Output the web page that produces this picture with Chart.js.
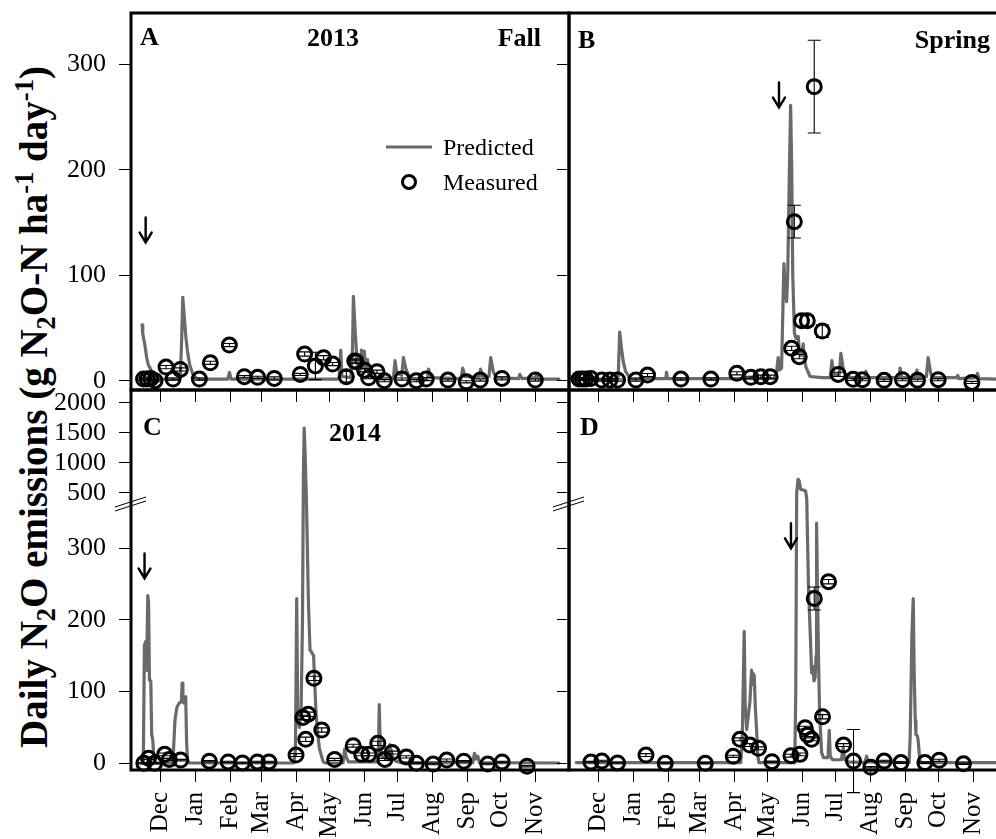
<!DOCTYPE html>
<html>
<head>
<meta charset="utf-8">
<script src="https://cdn.jsdelivr.net/npm/chart.js@4.4.1/dist/chart.umd.min.js"></script>
<style>
  html, body { margin: 0; padding: 0; background: #fff; overflow: hidden; }
  #fig { position: relative; width: 996px; height: 839px; overflow: hidden; }
  #fig canvas { position: absolute; }
  #ytitle {
    position: absolute; left: 33px; top: 407px;
    transform: translate(-50%, -50%) rotate(-90deg);
    white-space: nowrap; line-height: 1;
    font: bold 39px "Liberation Serif", "Times New Roman", serif;
    color: #000;
  }
  #ytitle sub, #ytitle sup { font-size: 0.68em; line-height: 0; }
</style>
</head>
<body>
<div id="fig">
  <div id="ytitle">Daily N<sub>2</sub>O emissions (g N<sub>2</sub>O-N ha<sup>-1</sup> day<sup>-1</sup>)</div>
  <canvas id="panelA" width="580" height="420" style="left:0;top:0"></canvas>
  <canvas id="panelB" width="580" height="420" style="left:440px;top:0"></canvas>
  <canvas id="panelC" width="580" height="459" style="left:0;top:380px"></canvas>
  <canvas id="panelD" width="580" height="459" style="left:440px;top:380px"></canvas>
</div>
<script>
// x axis: days after 1 December
const MONTH_LABELS = ['Dec', 'Jan', 'Feb', 'Mar', 'Apr', 'May', 'Jun', 'Jul', 'Aug', 'Sep', 'Oct', 'Nov'];
const MONTH_STARTS = [0, 31, 62, 90, 121, 151, 182, 212, 243, 274, 304, 335];
const TICKS_TOP = [0, 100, 200, 300];
const TICKS_BOTTOM = [0, 100, 200, 300, 500, 1000, 1500, 2000];

// predicted daily flux [day, g N2O-N/ha/day]
const predictedA = [[-16.6,53],[-16,45],[-15.2,40],[-14,33],[-12.5,22],[-11,15],[-9,11],[-7,5],[-5,2],[-2,1.5],
  [16,1.5],[17.6,3],[18.8,40],[19.8,79],[21,62],[22.5,42],[24,28],[26,15],[28.5,7],[31,3],[34,1.5],
  [60,1.5],[61.5,8],[63,1.5],[158,1.5],[159.5,3],[161,29],[162,4],[170,3],[171.5,30],[172.3,80],[174,45],
  [176,12],[178,8],[179.5,29],[180.5,12],[182,28],[183.5,10],[185,20],[186,6],[189,3],[208,2],[209.5,19],
  [211,8],[215.5,5],[217,22],[219,12],[222,4],[226,2],[238.5,2],[239.5,11],[241,3],[268.5,2],[270,12],
  [272,4],[284.5,3],[286,11],[288,3],[293.5,4],[295,22],[297.5,8],[300,3],[320,2],[321,6],[323,2],
  [335,3],[336,6],[338,1.5],[356,1.5]];
const predictedB = [[-17,1.5],[16,1.5],[17.5,4],[18.8,46],[20.5,30],[22,18],[24,9],[27,4],[30,2],
  [60,2],[60.7,8],[61.5,2],[157,2],[159,8],[160.5,22],[161.5,10],[163.5,12],[165.6,111],[166.6,90],
  [168,75],[169,100],[170.5,200],[171.6,261],[172.6,200],[173.5,100],[175,45],[176.5,40],[178.4,42],
  [179.5,26],[181,24],[182.9,35],[184,20],[185.3,13],[188.9,4],[200,3],[207,3],[208.5,19],[210,6],
  [215,5],[216.5,26],[218.5,12],[221,5],[226,3],[238,3],[239,9],[240,3],[268.5,3],[269.5,12],[271,3],
  [283,3],[284.5,10],[286,3],[293,4],[294.5,22],[297,6],[300,3],[320,3],[321,5],[322,2],[337.5,3],
  [338.6,7],[340,2],[356,1.5]];
const predictedC = [[-16.5,0.5],[-15.5,2],[-14.5,165],[-13.3,170],[-12.5,130],[-11.5,234],[-10.8,225],
  [-10,116],[-8.8,115],[-8,40],[-7,32],[-6,3],[-4.5,0.5],[10,0.5],[11.2,10],[12.8,60],[14.5,78],
  [16.5,84],[18.5,86],[19.2,112],[19.9,86],[20.8,84],[21.8,92],[22.4,93],[23.2,30],[24,5],[25.6,0.5],
  [119,0.5],[120.5,20],[121.6,230],[122.6,60],[124,50],[125.5,70],[126.8,200],[127.6,800],[128.3,1580],
  [129.2,1100],[130.2,450],[130.9,320],[132,230],[133.5,158],[135,155],[136.7,150],[137.5,120],
  [138.9,70],[140.5,40],[142,20],[145.3,2],[147,0.5],[163,0.5],[164.5,20],[166,8],[168,2],[194.5,2],
  [195.4,82],[196.3,25],[198,10],[203,5],[205,26],[207,10],[210,3],[215,1],[279,1],[280.5,14],
  [282,6],[283.5,10],[285,1],[356,0.5]];
const predictedD = [[-20,1],[127,1],[128.3,30],[130.1,184],[131,80],[132.3,47],[134,70],[135.2,86],
  [136.7,130],[137.5,110],[138.3,125],[139.1,122],[140,80],[141.2,46],[142.2,10],[143.3,1],[175.3,1],
  [176.2,100],[177,494],[178.2,727],[179.3,700],[180.5,560],[183,549],[185,530],[186,400],[187.5,250],
  [189,186],[190.4,126],[191.5,135],[192.5,115],[193.5,120],[194.3,150],[194.8,335],[195.5,250],
  [196.5,150],[197.5,70],[199.3,15],[201,8],[205,8],[206.1,46],[207,10],[209,5],[217,5],[218.6,22],
  [220,5],[223,2],[238,1],[239.5,10],[241,2],[277.5,1],[278.5,40],[280,180],[281.2,230],[282,130],
  [283,60],[283.6,40],[285,38],[285.7,30],[287,5],[288,1],[356,1]];

// measured chamber flux [day, mean, standard error]
const measuredA = [[-15.3,1.6,1],[-12,1.6,1],[-8.8,2,1.5],[-5,0,1],[4.8,12.9,1.5],[11.1,1.6,1],
  [17.6,10.7,1.5],[34.6,1.6,1],[44.4,17,1.5],[61.4,33.8,1.5],[74.8,3.8,1],[86.7,3.2,1],[101.6,2.2,1.5],
  [124.8,6,1],[128.7,25.3,2],[138.3,14,13],[145.6,21.8,2],[153.7,15.8,1.5],[166,3.8,5],[173.5,18.7,2],
  [174.6,18,1.5],[182.3,10,1.5],[185.9,2.8,1],[193.4,8.5,1.5],[199.9,0,1],[215.7,1.6,1],[228.5,0,1],
  [237.4,1.6,1.5],[256.8,0.6,1],[273.2,-1,1],[285.7,0.6,1],[305.1,2.2,1.5],[334.9,0.6,1]];
const measuredB = [[-17.5,1.6,1],[-14.5,1.6,1],[-11.5,1.6,1],[-7,2,1],[2.9,0.6,1],[10.1,0.6,1],
  [16.9,0.6,1],[33.3,0.6,1],[43.7,5.4,1.5],[73.5,1.6,1],[100.3,1.6,1],[123.5,7,1.5],[136,3.2,1],
  [145,3.8,1.5],[153.3,3.8,1.5],[172.5,30.7,2],[174.9,150.8,15.5],[179.3,22.8,2],[181.4,56.9,5],
  [186.5,56.9,5],[192.7,278.8,44],[199.9,47.1,6],[214.1,6,2],[227.5,1.3,1],[235.8,1,1],[255.2,0.4,1],
  [271.6,1,1],[285,0.5,1],[303.5,1,1],[333.6,-1.6,1]];
const measuredC = [[-15,0,1],[-10.8,7,1.5],[-5.4,0,1],[3.6,12.5,2],[7.7,5.4,1.5],[17.9,4.5,1],
  [43.5,3,1],[60.4,2,1],[73.1,0.5,1],[86.5,2,1],[96.8,2,1],[121,11.6,2],[127.1,64,3],[129.7,33.5,3],
  [131.9,68.4,3],[137,118.6,3],[144,46.5,3],[155.5,5.4,1.5],[172.1,24.6,2],[179.7,12.5,2],
  [186.1,12.5,2],[194.1,27.9,3],[200.4,5.4,1.5],[206.9,15,2],[219.6,9,1.5],[228.6,0,1],[243.6,-1,1],
  [255.7,4.5,1.5],[271,3,1],[292.4,-1,1],[305.2,2,1],[327.5,-4,1]];
const measuredD = [[-6.9,1.8,1],[2.9,3.2,1],[16.9,0.5,1],[42.3,11.6,2],[59.5,0,1],[95.3,0,1],
  [120.3,9.8,1.5],[126.3,33.5,2],[135.2,25.5,2],[142.9,20.9,2],[154.9,2.3,1],[171.9,10.7,2],
  [179.9,12.5,2],[184.6,49.7,2],[186.7,39.5,2],[190.3,33.5,2],[192.7,230,16],[200.1,65,3],
  [205.5,253.4,3],[218.9,25.5,2],[227.8,3.2,44],[243.3,-5.6,1],[255.2,3.2,1],[270.2,1,1],
  [291.6,1,1],[304.4,4.3,1.5],[326.1,-0.7,1]];

// fertilizer application [day, flux at arrow tip]
const fertA = [-13.4, 131];
const fertB = [161.2, 259];
const fertC = [-14.4, 258];
const fertD = [171.9, 300];

const SERIF = '"Liberation Serif", "Times New Roman", serif';
const GREY = '#6a6a6a';

// y axis with a break: linear up to breakValue, compressed above it
class BrokenScale extends Chart.LinearScale {
  getPixelForValue(value) {
    if (value === null || value === undefined) return NaN;
    const b = this.options.breakValue, f = this.options.breakFraction;
    const dec = value <= b
      ? (value - this.min) / (b - this.min) * f
      : f + (value - b) / (this.max - b) * (1 - f);
    return this.getPixelForDecimal(dec);
  }
  getValueForPixel(pixel) {
    const b = this.options.breakValue, f = this.options.breakFraction;
    const dec = this.getDecimalForPixel(pixel);
    return dec <= f
      ? this.min + dec / f * (b - this.min)
      : b + (dec - f) / (1 - f) * (this.max - b);
  }
}
BrokenScale.id = 'broken';
BrokenScale.defaults = Chart.LinearScale.defaults;
Chart.register(BrokenScale);

function arrow(ctx, x, yTip) {
  ctx.beginPath();
  ctx.moveTo(x, yTip - 25);
  ctx.lineTo(x, yTip - 1);
  ctx.moveTo(x - 6, yTip - 10);
  ctx.lineTo(x, yTip);
  ctx.lineTo(x + 6, yTip - 10);
  ctx.stroke();
}

// fixed axis boxes so every panel's plot area sits where it should
function fixBox(size, key) {
  return s => {
    s[key] = size;
    s.paddingTop = 0; s.paddingBottom = 0; s.paddingLeft = 0; s.paddingRight = 0;
  };
}

const decor = {
  id: 'decor',
  afterDatasetsDraw(chart) {
    // error bars on the measured means
    const ds = chart.data.datasets[0];
    const meta = chart.getDatasetMeta(0);
    const ys = chart.scales.y;
    const ctx = chart.ctx;
    ctx.save();
    ctx.strokeStyle = '#000';
    ctx.lineWidth = 1.1;
    meta.data.forEach((pt, i) => {
      const p = ds.data[i];
      const y1 = ys.getPixelForValue(p.y - p.se);
      const y2 = ys.getPixelForValue(p.y + p.se);
      ctx.beginPath();
      ctx.moveTo(pt.x, y1); ctx.lineTo(pt.x, y2);
      ctx.moveTo(pt.x - 6.5, y1); ctx.lineTo(pt.x + 6.5, y1);
      ctx.moveTo(pt.x - 6.5, y2); ctx.lineTo(pt.x + 6.5, y2);
      ctx.stroke();
    });
    ctx.restore();
  },
  afterDraw(chart, args, o) {
    const ctx = chart.ctx;
    const a = chart.chartArea;
    const xs = chart.scales.x, ys = chart.scales.y;
    ctx.save();
    ctx.fillStyle = '#000';
    ctx.strokeStyle = '#000';

    // panel letter and headings
    ctx.font = 'bold 26px ' + SERIF;
    ctx.textBaseline = 'alphabetic';
    ctx.textAlign = 'left';
    ctx.fillText(o.letter, a.left + o.letterPos[0], a.top + o.letterPos[1]);
    (o.headings || []).forEach(h => {
      ctx.textAlign = h.align;
      ctx.fillText(h.text, a.left + h.x, a.top + h.y);
    });

    // fertilizer arrow
    ctx.lineWidth = 2.4;
    ctx.lineCap = 'round';
    arrow(ctx, xs.getPixelForValue(o.fert[0]), ys.getPixelForValue(o.fert[1]));
    ctx.lineCap = 'butt';

    // legend
    if (o.legend) {
      const lx = a.left + 255, ly = a.top + 134;
      ctx.strokeStyle = GREY;
      ctx.lineWidth = 3;
      ctx.beginPath();
      ctx.moveTo(lx, ly); ctx.lineTo(lx + 46, ly);
      ctx.stroke();
      ctx.strokeStyle = '#000';
      ctx.lineWidth = 3;
      ctx.beginPath();
      ctx.arc(lx + 23, ly + 35, 6.5, 0, Math.PI * 2);
      ctx.stroke();
      ctx.font = '24px ' + SERIF;
      ctx.textAlign = 'left';
      ctx.fillText('Predicted', lx + 57, ly + 8);
      ctx.fillText('Measured', lx + 57, ly + 43);
    }

    // axis break marks
    if (o.broken) {
      const yb = ys.getPixelForValue(ys.options.breakValue);
      ctx.lineWidth = 1;
      ctx.beginPath();
      ctx.moveTo(a.left - 16, yb + 10); ctx.lineTo(a.left + 15, yb);
      ctx.moveTo(a.left - 16, yb + 6); ctx.lineTo(a.left + 15, yb - 4);
      ctx.stroke();
    }

    // frame
    ctx.lineWidth = 3;
    ctx.strokeRect(a.left, a.top, a.right - a.left, a.bottom - a.top);
    ctx.restore();
  }
};

function panel(id, cfg) {
  const toPts = rows => rows.map(r => ({ x: r[0], y: r[1], se: r[2] }));
  const tickGrid = { drawOnChartArea: false, drawTicks: true, tickLength: 12, tickColor: '#000', tickWidth: 1 };
  const yScale = {
    type: cfg.broken ? 'broken' : 'linear',
    min: cfg.yMin, max: cfg.yMax, bounds: 'data',
    breakValue: 366, breakFraction: 0.7079,
    afterBuildTicks: s => { s.ticks = cfg.yTicks.map(v => ({ value: v })); },
    afterFit: fixBox(cfg.yWidth, 'width'),
    grid: tickGrid,
    border: { display: false },
    ticks: {
      padding: 13, color: '#000', font: { family: SERIF, size: 26 },
      callback: v => cfg.yLabels ? String(v) : ''
    }
  };
  return new Chart(document.getElementById(id), {
    type: 'scatter',
    data: {
      datasets: [
        {
          label: 'Measured', data: toPts(cfg.measured), order: 0, clip: false,
          showLine: false, pointStyle: 'circle', pointRadius: 7, pointBorderWidth: 3,
          pointBorderColor: '#000', pointBackgroundColor: 'rgba(0,0,0,0)'
        },
        {
          label: 'Predicted', data: toPts(cfg.predicted), order: 1,
          showLine: true, borderColor: GREY, borderWidth: 3.2, pointRadius: 0,
          tension: 0, borderJoinStyle: 'round', borderCapStyle: 'round'
        }
      ]
    },
    options: {
      responsive: false, animation: false, events: [],
      layout: { padding: { top: cfg.padTop, right: cfg.padRight, left: 0, bottom: 0 } },
      plugins: {
        legend: { display: false }, tooltip: { enabled: false },
        decor: {
          letter: cfg.letter, letterPos: cfg.letterPos, headings: cfg.headings,
          fert: cfg.fert, legend: cfg.legend, broken: cfg.broken
        }
      },
      scales: {
        x: {
          type: 'linear', min: -26.5, max: 365, bounds: 'data',
          afterBuildTicks: s => { s.ticks = MONTH_STARTS.map(v => ({ value: v })); },
          afterFit: fixBox(cfg.xHeight, 'height'),
          grid: tickGrid,
          border: { display: false },
          ticks: {
            autoSkip: false, minRotation: 90, maxRotation: 90, padding: 10,
            color: '#000', font: { family: SERIF, size: 25 },
            callback: (v, i) => cfg.months ? MONTH_LABELS[i] : ''
          }
        },
        y: yScale
      }
    },
    plugins: [decor]
  });
}

panel('panelA', {
  predicted: predictedA, measured: measuredA, fert: fertA,
  yMin: -8.8, yMax: 348.6, yTicks: TICKS_TOP, yLabels: true, yWidth: 131,
  padTop: 13, padRight: 11, xHeight: 30, months: false, legend: true,
  letter: 'A', letterPos: [9, 32],
  headings: [{ text: '2013', x: 202, y: 33, align: 'center' }, { text: 'Fall', x: 410, y: 33, align: 'right' }]
});
panel('panelB', {
  predicted: predictedB, measured: measuredB, fert: fertB,
  yMin: -8.8, yMax: 348.6, yTicks: TICKS_TOP, yLabels: false, yWidth: 129,
  padTop: 13, padRight: 13, xHeight: 30, months: false,
  letter: 'B', letterPos: [9, 35],
  headings: [{ text: 'Spring', x: 421, y: 35, align: 'right' }]
});
panel('panelC', {
  predicted: predictedC, measured: measuredC, fert: fertC, broken: true,
  yMin: -9.3, yMax: 2212, yTicks: TICKS_BOTTOM, yLabels: true, yWidth: 131,
  padTop: 10, padRight: 11, xHeight: 69, months: true,
  letter: 'C', letterPos: [12, 45],
  headings: [{ text: '2014', x: 224, y: 51, align: 'center' }]
});
panel('panelD', {
  predicted: predictedD, measured: measuredD, fert: fertD, broken: true,
  yMin: -9.3, yMax: 2212, yTicks: TICKS_BOTTOM, yLabels: false, yWidth: 129,
  padTop: 10, padRight: 13, xHeight: 69, months: true,
  letter: 'D', letterPos: [11, 45]
});
</script>
</body>
</html>
